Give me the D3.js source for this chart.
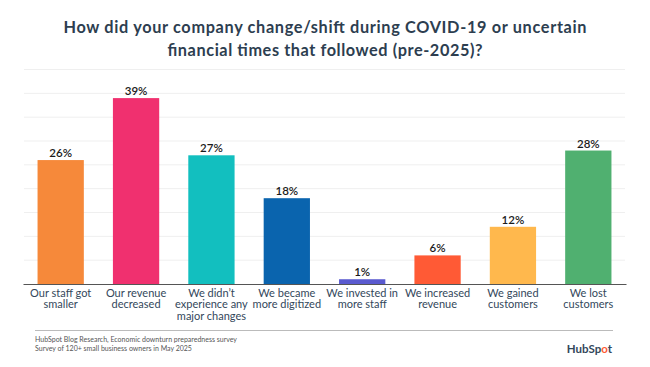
<!DOCTYPE html>
<html>
<head>
<meta charset="utf-8">
<script src="https://cdn.jsdelivr.net/npm/d3@7"></script>
<style>
  body { margin: 0; background: #fff; }
  text { font-family: Lato, "Open Sans", sans-serif; }
</style>
</head>
<body>
<div id="chart"></div>
<script>
// Data
const categories = [
  ["Our staff got", "smaller"],
  ["Our revenue", "decreased"],
  ["We didn\u2019t", "experience any", "major changes"],
  ["We became", "more digitized"],
  ["We invested in", "more staff"],
  ["We increased", "revenue"],
  ["We gained", "customers"],
  ["We lost", "customers"],
];
const values = [26, 39, 27, 18, 1, 6, 12, 28];
const barColors = ["#f6893a", "#f0306f", "#12bfbf", "#0a64ae", "#5a5acf", "#ff5a35", "#ffb84d", "#50b070"];
const gridTicks = [0, 5, 10, 15, 20, 25, 30, 35, 40, 45];
const titleLines = [
  "How did your company change/shift during COVID-19 or uncertain",
  "financial times that followed (pre-2025)?",
];
const titleWidths = [523, 315];
const sourceLines = [
  "HubSpot Blog Research, Economic downturn preparedness survey",
  "Survey of 120+ small business owners in May 2025",
];

// Plot constants
const W = 650, H = 367;
const MARGIN = {LEFT: 23, RIGHT: 24, TOP: 69.5, BOTTOM: 83};

const svg = d3.select("#chart").append("svg")
  .attr("width", W).attr("height", H);

const x = d3.scaleBand()
  .domain(d3.range(values.length))
  .range([MARGIN.LEFT, W - MARGIN.RIGHT])
  .paddingInner(0.386)
  .paddingOuter(0.193);

const y = d3.scaleLinear()
  .domain([0, 45])
  .range([H - MARGIN.BOTTOM, MARGIN.TOP]);

// Title
svg.append("g").selectAll("text").data(titleLines).join("text")
  .attr("x", W / 2)
  .attr("y", (d, i) => 32.5 + i * 23.5)
  .attr("text-anchor", "middle")
  .attr("font-family", "'Open Sans', sans-serif")
  .attr("font-size", 16.3)
  .attr("font-weight", 700)
  .attr("fill", "#2d3e50")
  .attr("textLength", (d, i) => titleWidths[i])
  .attr("lengthAdjust", "spacing")
  .text(d => d);

// Gridlines
svg.append("g").selectAll("line").data(gridTicks.slice(1)).join("line")
  .attr("x1", MARGIN.LEFT + 1).attr("x2", W - MARGIN.RIGHT - 1)
  .attr("y1", d => y(d)).attr("y2", d => y(d))
  .attr("stroke", "#efefef").attr("stroke-width", 1);

// Bars
svg.append("g").selectAll("rect").data(values).join("rect")
  .attr("x", (d, i) => x(i))
  .attr("y", d => y(d))
  .attr("width", x.bandwidth())
  .attr("height", d => y(0) - y(d))
  .attr("fill", (d, i) => barColors[i]);

// Value labels
svg.append("g").selectAll("text").data(values).join("text")
  .attr("x", (d, i) => x(i) + x.bandwidth() / 2)
  .attr("y", d => y(d) - 3)
  .attr("text-anchor", "middle")
  .attr("font-size", 11.5)
  .attr("font-weight", 600)
  .attr("fill", "#1a1a1a")
  .text(d => d + "%");

// Axis
const xAxis = svg.append("g")
  .attr("transform", "translate(0," + y(0) + ")")
  .call(d3.axisBottom(x).tickSize(0).tickFormat(""));
xAxis.select(".domain").attr("stroke", "#555").attr("stroke-width", 1.2);

const catLabels = svg.append("g").selectAll("text").data(categories).join("text")
  .attr("text-anchor", "middle")
  .attr("font-size", 11)
  .attr("fill", "#33475b");
catLabels.each(function (lines, i) {
  d3.select(this).selectAll("tspan").data(lines).join("tspan")
    .attr("x", x(i) + x.bandwidth() / 2)
    .attr("y", (d, j) => 296.5 + j * 11.7)
    .text(d => d);
});

// Footer
svg.append("line")
  .attr("x1", 35).attr("x2", 613)
  .attr("y1", 330.5).attr("y2", 330.5)
  .attr("stroke", "#bbb").attr("stroke-width", 1);

svg.append("g").selectAll("text").data(sourceLines).join("text")
  .attr("x", 35)
  .attr("y", (d, i) => 342 + i * 9)
  .attr("font-size", 7)
  .attr("fill", "#555")
  .text(d => d);

const logo = svg.append("text")
  .attr("x", 612).attr("y", 353)
  .attr("text-anchor", "end")
  .attr("font-size", 11.5)
  .attr("font-weight", 700)
  .attr("fill", "#33475b");
logo.append("tspan").text("HubSp");
logo.append("tspan").attr("fill", "#ff5c35").text("o");
logo.append("tspan").text("t");
</script>
</body>
</html>
